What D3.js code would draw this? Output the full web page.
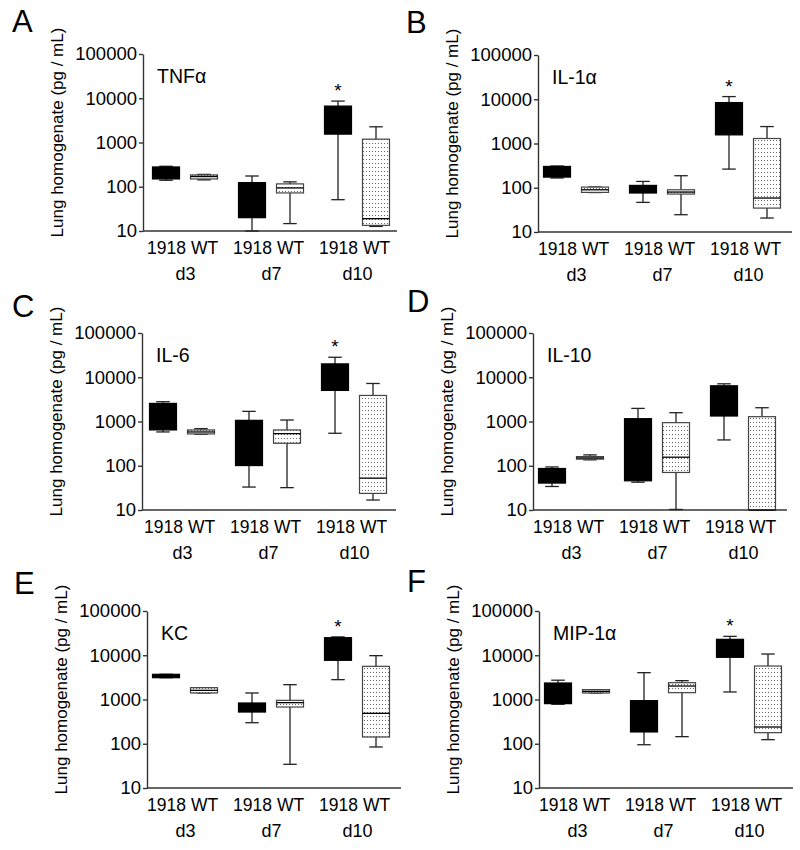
<!DOCTYPE html>
<html>
<head>
<meta charset="utf-8">
<script src="https://cdn.jsdelivr.net/npm/d3@7"></script>
<style>
  html, body { margin: 0; padding: 0; background: #fff; }
  svg { display: block; font-family: Arial, "Liberation Sans", sans-serif; }
</style>
</head>
<body>
<svg id="chart" width="800" height="850"></svg>
<script>
// ---------- data ----------
const days = ["d3", "d7", "d10"];
const strains = ["1918", "WT"];
const yTicks = [10, 100, 1000, 10000, 100000];
const panelLetters = ["A", "B", "C", "D", "E", "F"];
const cytokines = ["TNF\u03b1", "IL-1\u03b1", "IL-6", "IL-10", "KC", "MIP-1\u03b1"];
const yLabel = "Lung homogenate (pg / mL)";
// each box: [min, q1, median, q3, max]; order: 1918 d3, WT d3, 1918 d7, WT d7, 1918 d10, WT d10
const tnfa = [[140,150,200,280,290],[143,150,170,185,190],[10,20,60,124,175],[14.7,72.5,94,116,129],[51,1545,3000,6650,8630],[12.7,13.4,19,1190,2265]];
const il1a = [[166,174,222,303,310],[78,78.5,90,103.5,104],[46.7,76,88,113,139],[24.6,72,80,90,187],[264,1566,3500,8410,11490],[20.7,34.7,58.5,1297,2415]];
const il6  = [[581,645,1200,2565,2800],[515,524,580,645,690],[33,101,300,1062,1694],[32,322,532,645,1080],[542,5040,10000,20050,28300],[16.8,23.7,52.5,3880,7230]];
const il10 = [[34,40.6,60,86.7,94],[136,141,150,161,176],[42.5,45.7,200,1158,1977],[10.3,70.5,156,942,1581],[383,1330,3000,6415,7110],[10,10,10,1285,2048]];
const kc   = [[3110,3110,3400,3710,3710],[1404,1404,1610,1850,1850],[299,521,650,834,1404],[34.3,676,848,957,2163],[2806,7680,15000,24950,26000],[84.6,142,487,5620,9790]];
const mip1a= [[780,806,1300,2360,2730],[1404,1404,1530,1668,1668],[95,184.6,500,942,4040],[144.6,1426,2017,2400,2667],[1480,8980,15000,22900,26700],[123.6,178,239,5710,10660]];
const panelData = [tnfa, il1a, il6, il10, kc, mip1a];
const significant = [true, true, true, false, true, true]; // * on 1918 d10

// ---------- layout ----------
const origins = [[143,54],[538,55],[142,333],[533,333],[147,611],[539,611]];
const boxShift = [4, 0, 2, 0, 0, 0];
const letterPos = [[12,32],[406,33],[12,317],[407,312],[14,594],[407,592]];
const plotH = 177, plotW = 254, boxW = 27;
const axisColor = "#333";
const FONT = "Arial, 'Liberation Sans', sans-serif";

const svg = d3.select("#chart");
const defs = svg.append("defs");
const pat = defs.append("pattern").attr("id", "dots")
  .attr("patternUnits", "userSpaceOnUse").attr("width", 3).attr("height", 4);
pat.append("rect").attr("width", 3).attr("height", 4).attr("fill", "#fff");
pat.append("rect").attr("x", 1).attr("y", 1).attr("width", 1).attr("height", 1).attr("fill", "#666");

const y = d3.scaleLog().domain([10, 100000]).range([plotH, 0]);
const xStrain = d3.scalePoint().domain(strains).range([-19, 19]);

panelData.forEach((data, pi) => {
  const [ox, oy] = origins[pi];
  const xDay = d3.scalePoint().domain(days).range([38 + boxShift[pi], 210 + boxShift[pi]]);
  const g = svg.append("g").attr("transform", `translate(${ox},${oy})`);

  // panel letter
  svg.append("text").attr("x", letterPos[pi][0]).attr("y", letterPos[pi][1])
    .attr("font-size", 31).attr("fill", "#000").text(panelLetters[pi]);

  // y axis
  const ya = g.append("g").call(d3.axisLeft(y).tickValues(yTicks).tickFormat(d3.format("d"))
      .tickSize(4).tickSizeOuter(0).tickPadding(2));
  ya.selectAll("text").attr("font-size", 18.5).attr("fill", "#000").attr("font-family", FONT);
  ya.selectAll("line, path").attr("stroke", axisColor).attr("stroke-width", 1.4);

  // x axis line
  g.append("line").attr("x1", 0).attr("x2", plotW).attr("y1", plotH).attr("y2", plotH)
    .attr("stroke", axisColor).attr("stroke-width", 1.4);

  // day labels
  const xa = g.append("g").attr("transform", `translate(0,${plotH})`)
    .call(d3.axisBottom(xDay).tickSize(0).tickPadding(36));
  xa.select(".domain").remove();
  xa.selectAll("text").attr("font-size", 18).attr("fill", "#000").attr("font-family", FONT);

  // strain labels per group
  days.forEach(dd => {
    const sa = g.append("g").attr("transform", `translate(${xDay(dd)},${plotH})`)
      .call(d3.axisBottom(xStrain).tickSize(0).tickPadding(11));
    sa.select(".domain").remove();
    sa.selectAll("text").attr("font-size", 17.5).attr("fill", "#000").attr("font-family", FONT);
  });

  // cytokine label
  g.append("text").attr("x", 14).attr("y", 29).attr("font-size", 19.5).attr("fill", "#000")
    .text(cytokines[pi]);

  // y axis title
  g.append("text").attr("transform", `translate(-80,${plotH / 2 - 10}) rotate(-90)`)
    .attr("text-anchor", "middle").attr("font-size", 17).attr("fill", "#000").text(yLabel);

  // boxes
  data.forEach((b, i) => {
    const day = days[Math.floor(i / 2)], strain = strains[i % 2];
    const cx = xDay(day) + xStrain(strain);
    const [mn, q1, md, q3, mx] = b;
    const isBlack = strain === "1918";
    const bg = g.append("g");
    const capW = boxW / 2;
    // whiskers
    bg.append("line").attr("x1", cx).attr("x2", cx).attr("y1", y(q3)).attr("y2", y(mx))
      .attr("stroke", "#222").attr("stroke-width", 1.3);
    bg.append("line").attr("x1", cx).attr("x2", cx).attr("y1", y(q1)).attr("y2", y(mn))
      .attr("stroke", "#222").attr("stroke-width", 1.3);
    bg.append("line").attr("x1", cx - capW / 2).attr("x2", cx + capW / 2).attr("y1", y(mx)).attr("y2", y(mx))
      .attr("stroke", "#222").attr("stroke-width", 1.3);
    bg.append("line").attr("x1", cx - capW / 2).attr("x2", cx + capW / 2).attr("y1", y(mn)).attr("y2", y(mn))
      .attr("stroke", "#222").attr("stroke-width", 1.3);
    // box
    bg.append("rect").attr("x", cx - boxW / 2).attr("y", y(q3))
      .attr("width", boxW).attr("height", Math.max(1, y(q1) - y(q3)))
      .attr("fill", isBlack ? "#000" : "url(#dots)")
      .attr("stroke", isBlack ? "#000" : "#444").attr("stroke-width", 1.2);
    // median
    bg.append("line").attr("x1", cx - boxW / 2).attr("x2", cx + boxW / 2).attr("y1", y(md)).attr("y2", y(md))
      .attr("stroke", "#000").attr("stroke-width", 1.3);
    // significance
    if (significant[pi] && i === 4) {
      bg.append("text").attr("x", cx).attr("y", y(mx) - 4).attr("text-anchor", "middle")
        .attr("font-size", 19).attr("fill", "#000").text("*");
    }
  });
});
</script>
</body>
</html>
